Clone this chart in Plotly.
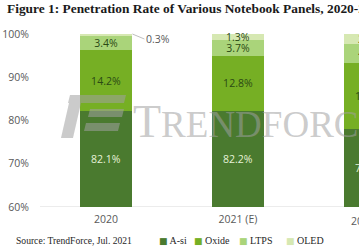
import plotly.graph_objects as go

categories = ["2020", "2021 (E)", "2022 (F)"]
series_names = ["A-si", "Oxide", "LTPS", "OLED"]
a_si = [82.1, 82.2, 78.1]
oxide = [14.2, 12.8, 15.2]
ltps = [3.4, 3.7, 4.4]
oled = [0.3, 1.3, 2.3]
y_ticks = [60, 70, 80, 90, 100]
y_tick_labels = ["60%", "70%", "80%", "90%", "100%"]

colors = ["#4A7A2F", "#76AF24", "#AAD47A", "#D6E8B2"]
text_colors = ["#E6F2D8", "#2B4A14", "#2B4A14", "#2B4A14"]

W, H = 359, 250
ML, MR, MT, MB = 40, 0, 34, 43
Y_MIN, Y_MAX = 60, 100
BAR_W = 0.40
X_RANGE = [-0.5, -0.5 + (W - ML - MR) / 132.0]

def cat_to_paper(i):
    # category index -> paper fraction along the x axis range
    return (i - X_RANGE[0]) / (X_RANGE[1] - X_RANGE[0])

def px(x):
    return (x - ML) / (W - ML - MR)

def py(y):
    return (H - MB - y) / (H - MT - MB)

fig = go.Figure()
all_series = [a_si, oxide, ltps, oled]
for name, vals, col, tc in zip(series_names, all_series, colors, text_colors):
    texts = [f"{v}%" for v in vals] if name in ("Oxide", "LTPS") else None
    fig.add_trace(go.Bar(
        x=categories, y=vals, name=name,
        marker=dict(color=col, line=dict(width=0)),
        width=BAR_W,
        text=texts, textposition="inside", insidetextanchor="middle",
        textangle=0, constraintext="none",
        textfont=dict(family="Open Sans", size=10.5, color=tc),
        hoverinfo="skip", showlegend=False,
    ))

# A-si labels centred in the visible part of the segment
for i, v in enumerate(a_si):
    fig.add_annotation(
        x=cat_to_paper(i), y=(max(Y_MIN, 0) + v) / 2, xref="paper", yref="y",
        xanchor="center", yanchor="middle",
        text=f"{v}%", showarrow=False,
        font=dict(family="Open Sans", size=10.5, color=text_colors[0]),
    )

# OLED labels: inside when there is room, outside with a leader line otherwise
for i, v in enumerate(oled):
    base = a_si[i] + oxide[i] + ltps[i]
    if v < 1:
        fig.add_annotation(
            x=cat_to_paper(i + BAR_W / 2), y=base + v, xref="paper", yref="y",
            text=f"{v}%", showarrow=True, arrowhead=0, arrowwidth=1,
            arrowcolor="#BFBFBF", ax=12, ay=5, xanchor="left",
            font=dict(family="Open Sans", size=10.5, color="#595959"),
        )
    else:
        fig.add_annotation(
            x=cat_to_paper(i), y=base + v / 2, xref="paper", yref="y",
            xanchor="center", yanchor="middle",
            text=f"{v}%", showarrow=False,
            font=dict(family="Open Sans", size=10.5, color=text_colors[3]),
        )

# category labels whose centre falls just past the cropped right edge
for i, c in enumerate(categories):
    if i > X_RANGE[1]:
        fig.add_annotation(
            x=cat_to_paper(i), y=py(221), xref="paper", yref="paper",
            xanchor="center", yanchor="middle", showarrow=False, text=c,
            font=dict(family="Open Sans", size=10.5, color="#595959"),
        )

# baseline at the bottom of the value axis
fig.add_shape(type="line", xref="paper", yref="y", x0=0, x1=1, y0=Y_MIN, y1=Y_MIN,
              line=dict(color="#D9D9D9", width=1), layer="below")

# watermark logo (decoration)
wm = "rgba(160,160,160,0.55)"
paths = [
    [(70, 95), (126, 95), (124, 103), (68, 103)],
    [(69, 103), (81, 103), (73, 138), (61, 138)],
    [(90, 109), (124, 109), (122, 117), (88, 117)],
    [(86, 123), (120, 123), (118, 131), (84, 131)],
]
for poly in paths:
    d = "M " + " L ".join(f"{px(x):.4f},{py(y):.4f}" for x, y in poly) + " Z"
    fig.add_shape(type="path", path=d, xref="paper", yref="paper",
                  fillcolor=wm, line=dict(width=0), layer="above")

fig.add_annotation(
    x=px(131), y=py(149), xref="paper", yref="paper",
    xanchor="left", yanchor="bottom", showarrow=False,
    text="T<span style='font-size:37px'>RENDFORCE</span>",
    font=dict(family="Liberation Serif", size=46, color=wm),
)

# source note
fig.add_annotation(
    x=px(14), y=py(240), xref="paper", yref="paper",
    xanchor="left", yanchor="middle", showarrow=False,
    text="Source: TrendForce, Jul. 2021",
    font=dict(family="Liberation Serif", size=9.6, color="#262626"),
)

# legend row
legend_x = [157, 192, 237, 284]
for name, col, lx in zip(series_names, colors, legend_x):
    fig.add_annotation(
        x=px(lx), y=py(240), xref="paper", yref="paper",
        xanchor="left", yanchor="middle", showarrow=False,
        text=f"<span style='color:{col};font-size:9px;font-family:DejaVu Sans'>■</span> {name}",
        font=dict(family="Liberation Serif", size=10, color="#262626"),
    )

fig.update_layout(
    width=W, height=H,
    margin=dict(l=ML, r=MR, t=MT, b=MB, pad=0, autoexpand=False),
    paper_bgcolor="white", plot_bgcolor="white",
    barmode="stack",
    title=dict(
        text="<b>Figure 1: Penetration Rate of Various Notebook Panels, 2020-2022</b>",
        x=0, xref="container", xanchor="left", y=1, yref="container", yanchor="top",
        pad=dict(l=7, t=4),
        font=dict(family="Liberation Serif", size=13.4, color="#1a1a1a"),
    ),
    showlegend=False,
    xaxis=dict(
        type="category", categoryorder="array", categoryarray=categories,
        range=X_RANGE,
        showgrid=False, showline=False, zeroline=False, ticks="",
        ticklabelstandoff=4,
        tickfont=dict(family="Open Sans", size=10.5, color="#595959"),
    ),
    yaxis=dict(
        range=[Y_MIN, Y_MAX], tickvals=y_ticks, ticktext=y_tick_labels,
        showgrid=False, zeroline=False, showline=False, ticks="",
        ticklabelstandoff=10,
        tickfont=dict(family="Open Sans", size=10.5, color="#595959"),
    ),
    bargap=0.6,
)

fig.write_html("out.html")
